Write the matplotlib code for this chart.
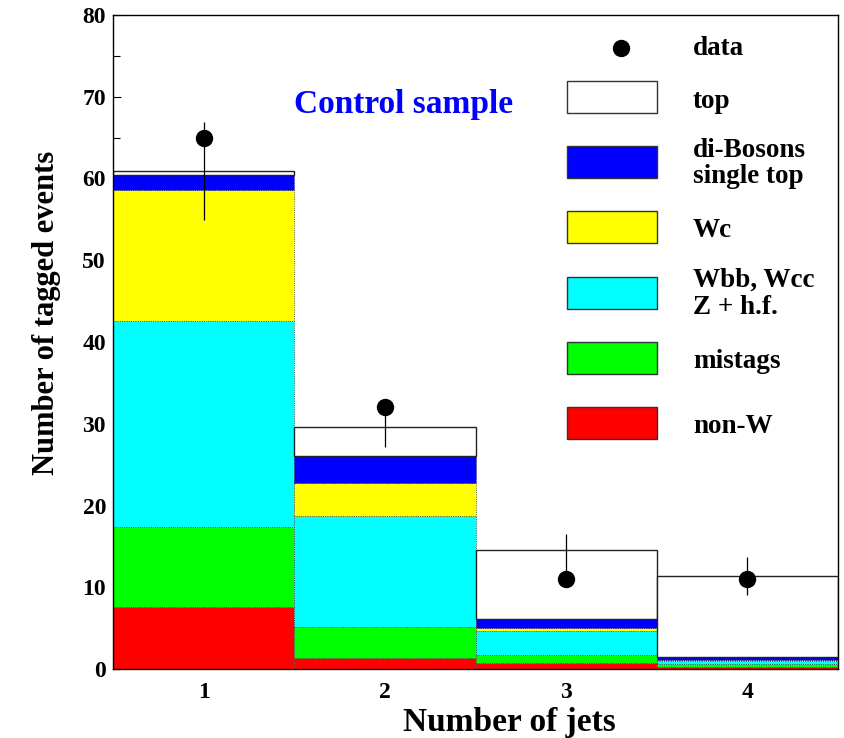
import matplotlib
matplotlib.use("Agg")
import matplotlib.pyplot as plt
from matplotlib.patches import Rectangle
from matplotlib.lines import Line2D
import numpy as np

# jet bins and stacked backgrounds (bottom -> top)
n_jets = [1, 2, 3, 4]
non_w = [7.6, 1.4, 0.77, 0.3]
mistags = [9.8, 3.7, 0.93, 0.3]
wbb_wcc = [25.2, 13.65, 2.9, 0.4]
wc = [16.0, 3.95, 0.45, 0.1]
dibosons = [1.8, 3.4, 1.05, 0.4]
top = [0.5, 3.5, 8.4, 9.9]

# observed data with (lower, upper) error bar ends
data = [65, 32, 11, 11]
data_lo = [54.9, 27.1, 11, 9.05]
data_hi = [66.9, 32, 16.5, 13.75]

W, H = 844, 738
plt.rcParams['font.family'] = ['Liberation Serif', 'DejaVu Serif']
plt.rcParams['font.weight'] = 'bold'

fig = plt.figure(figsize=(W / 100, H / 100), dpi=100)
fig.patch.set_facecolor('white')
ax = fig.add_axes([113 / W, 69 / H, 725 / W, 654 / H])


def px(x, y):
    return x / W, 1 - y / H


stack = [
    (non_w, '#ff0000'),
    (mistags, '#00ff00'),
    (wbb_wcc, '#00ffff'),
    (wc, '#ffff00'),
    (dibosons, '#0000ff'),
]
bottom = np.zeros(len(n_jets))
for vals, col in stack:
    ax.bar(n_jets, vals, width=1.0, bottom=bottom, color=col,
           edgecolor='#333333', linewidth=0.6, linestyle=':', zorder=2)
    bottom = bottom + np.array(vals)
ax.bar(n_jets, top, width=1.0, bottom=bottom, color='white',
       edgecolor='#222222', linewidth=1.0, zorder=2)

# data points with error bars
ax.vlines(n_jets, data_lo, data_hi, color='black', linewidth=0.9, zorder=4)
ax.plot(n_jets, data, 'o', color='black', markersize=11.5, zorder=5)

ax.set_xlim(0.5, 4.5)
ax.set_ylim(0, 80)
ax.set_xticks(n_jets)
ax.set_yticks(np.arange(0, 81, 10))
ax.set_yticks(np.arange(0, 81, 5), minor=True)
ax.tick_params(axis='x', length=0, pad=9, labelsize=17)
ax.tick_params(axis='y', which='major', direction='in', length=6, width=0.8,
               pad=5, labelsize=17)
ax.tick_params(axis='y', which='minor', direction='in', length=5, width=0.8)
ax.tick_params(axis='x', which='minor', length=0)
for s in ax.spines.values():
    s.set_linewidth(1.0)
    s.set_zorder(6)

fig.text(*px(509, 731), 'Number of jets', ha='center', va='baseline',
         fontsize=24, fontweight='bold')
fig.text(*px(47, 313), 'Number of tagged events', ha='center', va='center',
         rotation=90, fontsize=22, fontweight='bold')
fig.text(*px(403.5, 113), 'Control sample', ha='center', va='baseline',
         fontsize=24, fontweight='bold', color='#0000ff')

# legend drawn by hand
fig.add_artist(Line2D([621 / W], [1 - 48 / H], marker='o', color='black',
                      markersize=11.5, transform=fig.transFigure))
boxes = [
    (81, 'white'),
    (146, '#0000ff'),
    (211, '#ffff00'),
    (277, '#00ffff'),
    (342, '#00ff00'),
    (407, '#ff0000'),
]
for ytop, col in boxes:
    x0, y0 = px(567, ytop + 32)
    fig.add_artist(Rectangle((x0, y0), 90 / W, 32 / H, facecolor=col,
                             edgecolor='#333333', linewidth=1.0,
                             transform=fig.transFigure))

legend_text = [
    (55, 'data'),
    (108, 'top'),
    (157, 'di-Bosons'),
    (183, 'single top'),
    (237, 'Wc'),
    (287, 'Wbb, Wcc'),
    (314, 'Z + h.f.'),
    (368, 'mistags'),
    (433, 'non-W'),
]
for yb, txt in legend_text:
    fig.text(*px(693, yb), txt, ha='left', va='baseline', fontsize=19.5,
             fontweight='bold')

fig.savefig('out.png', dpi=100, facecolor='white')
